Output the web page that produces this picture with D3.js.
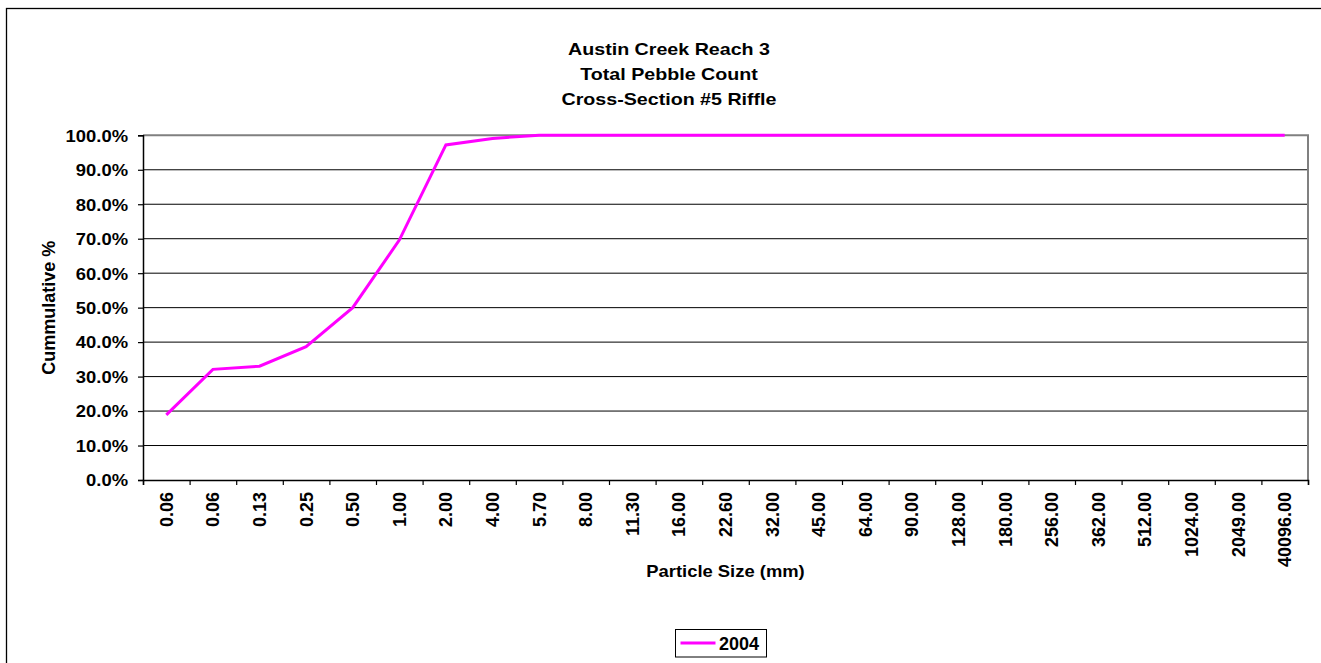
<!DOCTYPE html>
<html>
<head>
<meta charset="utf-8">
<script src="https://cdn.jsdelivr.net/npm/d3@7"></script>
<style>
  html, body { margin: 0; padding: 0; background: #fff; }
  svg { display: block; font-family: "Liberation Sans", Arial, sans-serif; font-weight: bold; }
</style>
</head>
<body>
<svg id="chart" width="1321" height="663"></svg>
<script>
// Particle size classes (mm) along the category axis
const sizeClasses = ["0.06", "0.06", "0.13", "0.25", "0.50", "1.00", "2.00", "4.00", "5.70",
  "8.00", "11.30", "16.00", "22.60", "32.00", "45.00", "64.00", "90.00", "128.00",
  "180.00", "256.00", "362.00", "512.00", "1024.00", "2049.00", "40096.00"];

// Cumulative percent finer, 2004 survey
const cumulative2004 = [0.189, 0.321, 0.330, 0.387, 0.500, 0.696, 0.972, 0.991, 1.000,
  1.000, 1.000, 1.000, 1.000, 1.000, 1.000, 1.000, 1.000, 1.000,
  1.000, 1.000, 1.000, 1.000, 1.000, 1.000, 1.000];

const yTickValues = [0, 0.1, 0.2, 0.3, 0.4, 0.5, 0.6, 0.7, 0.8, 0.9, 1.0];

const titleLines = ["Austin Creek Reach 3", "Total Pebble Count", "Cross-Section #5 Riffle"];
const seriesName = "2004";

const svg = d3.select("#chart");
const plot = { left: 143, right: 1308, top: 135.3, bottom: 480 };
const wide = 1.13; // horizontal stretch applied to upright text

// Outer chart frame (only top and left edges fall inside the canvas)
svg.append("rect")
  .attr("x", 6.5).attr("y", 8.5).attr("width", 1340).attr("height", 700)
  .attr("fill", "#fff").attr("stroke", "#000").attr("stroke-width", 1.3);

// Scales
const idx = d3.range(sizeClasses.length);
const xBand = d3.scaleBand().domain(idx).range([plot.left, plot.right]).padding(0);
const xEdge = d3.scaleLinear().domain([0, sizeClasses.length]).range([plot.left, plot.right]);
const y = d3.scaleLinear().domain([0, 1]).range([plot.bottom, plot.top]);

// Horizontal gridlines
svg.append("g")
  .selectAll("line")
  .data(yTickValues.filter(v => v > 0 && v < 1))
  .join("line")
  .attr("x1", plot.left).attr("x2", plot.right)
  .attr("y1", d => y(d)).attr("y2", d => y(d))
  .attr("stroke", "#000").attr("stroke-width", 1);

// Plot area border (grey top / right)
svg.append("path")
  .attr("d", `M${plot.left},${y(1)}H${plot.right}V${plot.bottom}`)
  .attr("fill", "none").attr("stroke", "#808080").attr("stroke-width", 2);

// Y axis
const yAxis = svg.append("g")
  .attr("transform", `translate(${plot.left},0)`)
  .call(d3.axisLeft(y).tickValues(yTickValues).tickFormat(d3.format(".1%")).tickSize(5).tickPadding(0));
yAxis.select(".domain").attr("stroke", "#000").attr("stroke-width", 1.5);
yAxis.selectAll(".tick line").attr("stroke", "#000").attr("stroke-width", 1.2);
yAxis.selectAll(".tick text")
  .attr("x", -15 / wide)
  .attr("dy", "0.36em")
  .attr("transform", `scale(${wide},1)`)
  .attr("fill", "#000")
  .style("font-size", "16.3px").style("font-weight", "bold")
  .style("font-family", "'Liberation Sans', Arial, sans-serif");

// X axis: tick marks at category boundaries
const xTicks = svg.append("g")
  .attr("transform", `translate(0,${plot.bottom})`)
  .call(d3.axisBottom(xEdge).tickValues(d3.range(sizeClasses.length + 1)).tickFormat("").tickSize(5));
xTicks.select(".domain").attr("stroke", "#000").attr("stroke-width", 1.5);
xTicks.selectAll(".tick line").attr("stroke", "#000").attr("stroke-width", 1.2);

// X axis: rotated category labels at category centres
const xLabels = svg.append("g")
  .attr("transform", `translate(0,${plot.bottom})`)
  .call(d3.axisBottom(xBand).tickFormat(i => sizeClasses[i]).tickSize(0));
xLabels.select(".domain").remove();
xLabels.selectAll(".tick text")
  .attr("x", 0).attr("y", 0)
  .attr("dy", "0.36em")
  .attr("text-anchor", "end")
  .attr("transform", "translate(0,12) rotate(-90)")
  .attr("fill", "#000")
  .style("font-size", "18px").style("font-weight", "bold")
  .style("font-family", "'Liberation Sans', Arial, sans-serif");

// Data line
const line = d3.line()
  .x((d, i) => xBand(i) + xBand.bandwidth() / 2)
  .y(d => y(d));
svg.append("path")
  .datum(cumulative2004)
  .attr("d", line)
  .attr("fill", "none")
  .attr("stroke", "#FF00FF")
  .attr("stroke-width", 3)
  .attr("stroke-linejoin", "miter");

// Title
const titleX = 669;
svg.append("g")
  .selectAll("text")
  .data(titleLines)
  .join("text")
  .attr("transform", (d, i) => `translate(${titleX},${55 + i * 25}) scale(1.17,1)`)
  .attr("text-anchor", "middle")
  .style("font-size", "16.8px")
  .text(d => d);

// Axis titles
svg.append("text")
  .attr("transform", `translate(${(plot.left + plot.right) / 2},576.7) scale(${wide},1)`)
  .attr("text-anchor", "middle")
  .style("font-size", "16.3px")
  .text("Particle Size (mm)");

svg.append("text")
  .attr("transform", `translate(54.5,${(plot.top + plot.bottom) / 2}) rotate(-90)`)
  .attr("text-anchor", "middle")
  .style("font-size", "18px")
  .text("Cummulative %");

// Legend
const legend = svg.append("g").attr("transform", "translate(675.5,629.5)");
legend.append("rect")
  .attr("width", 91).attr("height", 27.5)
  .attr("fill", "#fff").attr("stroke", "#000").attr("stroke-width", 1);
legend.append("line")
  .attr("x1", 5).attr("x2", 40).attr("y1", 13.5).attr("y2", 13.5)
  .attr("stroke", "#FF00FF").attr("stroke-width", 3);
legend.append("text")
  .attr("x", 43.5).attr("y", 20.3)
  .style("font-size", "18px")
  .text(seriesName);
</script>
</body>
</html>
